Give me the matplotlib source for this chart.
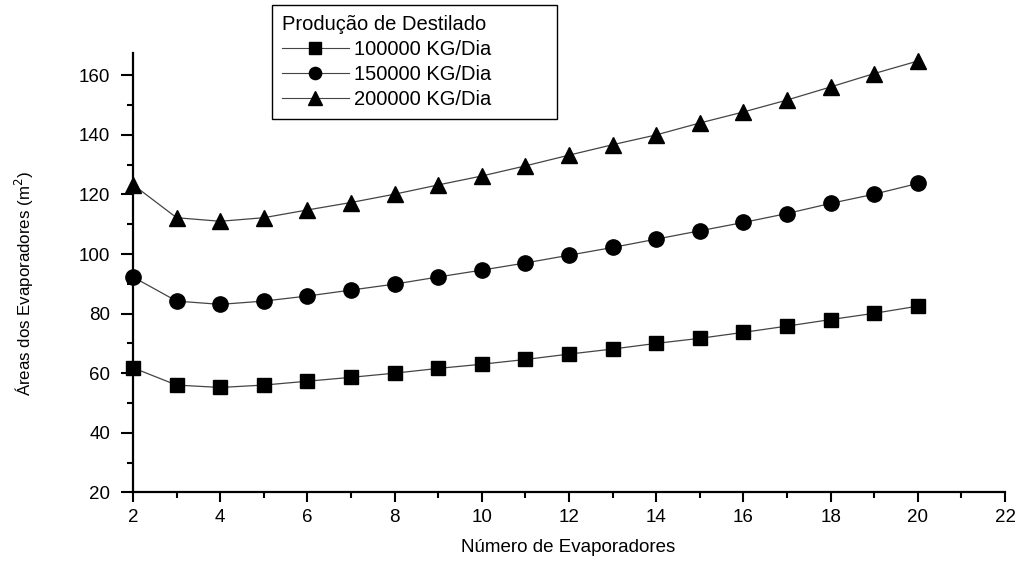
import matplotlib
matplotlib.use("Agg")
import matplotlib.pyplot as plt
from matplotlib.ticker import MultipleLocator

plt.rcParams["font.family"] = ["Liberation Sans", "DejaVu Sans"]

# number of evaporators
n_evap = list(range(2, 21))

# areas (m2)
area_100k = [61.8, 56.0, 55.2, 56.0, 57.3, 58.6, 60.0, 61.6, 63.0, 64.6,
             66.4, 68.1, 70.0, 71.7, 73.7, 75.8, 78.0, 80.1, 82.5]
area_150k = [92.3, 84.2, 83.1, 84.2, 85.9, 87.9, 89.9, 92.3, 94.6, 97.0,
             99.6, 102.2, 105.0, 107.8, 110.6, 113.6, 117.0, 120.1, 123.7]
area_200k = [123.3, 112.2, 111.0, 112.2, 114.8, 117.3, 120.1, 123.2, 126.2, 129.6,
             133.2, 136.7, 140.0, 144.0, 147.7, 151.7, 156.1, 160.6, 164.8]

labels = ["100000 KG/Dia", "150000 KG/Dia", "200000 KG/Dia"]
legend_title = "Produção de Destilado"

fig = plt.figure(figsize=(10.26, 5.62), dpi=100)
ax = fig.add_axes([133 / 1026, 1 - 492.3 / 562, 872 / 1026, 439.3 / 562])

series = [(area_100k, "s", 10.5), (area_150k, "o", 11), (area_200k, "^", 12)]
for (vals, mk, ms), lab in zip(series, labels):
    ax.plot(n_evap, vals, color="#444444", lw=0.9, marker=mk, ms=ms,
            mfc="black", mec="black", label=lab, clip_on=False)

ax.set_xlim(2, 22)
ax.set_ylim(20, 167.5)
ax.xaxis.set_major_locator(MultipleLocator(2))
ax.xaxis.set_minor_locator(MultipleLocator(1))
ax.yaxis.set_major_locator(MultipleLocator(20))
ax.yaxis.set_minor_locator(MultipleLocator(10))

for side in ["top", "right"]:
    ax.spines[side].set_visible(False)
for side in ["left", "bottom"]:
    ax.spines[side].set_linewidth(1.6)

ax.tick_params(axis="both", which="both", direction="out", width=1.5,
               labelsize=13.5, colors="black")
ax.tick_params(axis="y", which="major", length=8.5, pad=8)
ax.tick_params(axis="x", which="major", length=7, pad=5)
ax.tick_params(axis="both", which="minor", length=4.5)

fig.text(568 / 1026, 1 - 548 / 562, "Número de Evaporadores",
         ha="center", va="center", fontsize=13.5)
fig.text(24 / 1026, 1 - 284 / 562, "Áreas dos Evaporadores (m$^2$)",
         ha="center", va="center", rotation=90, fontsize=12.2)

leg = ax.legend(title=legend_title, loc="upper left", mode="expand",
                bbox_to_anchor=(272 / 1026, 1 - 121 / 562, 285 / 1026, 116 / 562),
                bbox_transform=fig.transFigure, borderaxespad=0,
                fontsize=14.5, title_fontsize=14.5, fancybox=False,
                edgecolor="black", framealpha=1, handlelength=3.3,
                handletextpad=0.25, labelspacing=0.3, borderpad=0.5,
                markerscale=0.8)
leg.get_frame().set_linewidth(1.0)
leg._legend_box.align = "left"
for line in leg.get_lines():
    line.set_linewidth(0.8)

fig.savefig("out.png", dpi=100)
